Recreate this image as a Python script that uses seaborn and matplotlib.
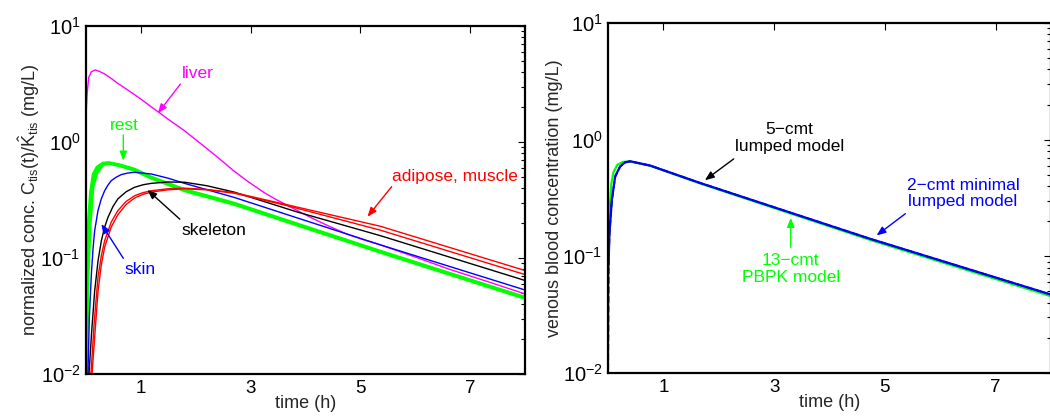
import numpy as np
import pandas as pd
import matplotlib
matplotlib.use("Agg")
import matplotlib.pyplot as plt
import seaborn as sns
from matplotlib.ticker import LogLocator, FixedLocator, LogFormatterSciNotation, NullFormatter, NullLocator

# ---------------- data ----------------
# left panel: normalized tissue concentrations
t_liver = [0, 0.02, 0.05, 0.10, 0.17, 0.25, 0.34, 0.46, 0.58, 0.73, 0.885, 1.04, 1.19, 1.49, 1.795, 2.10, 2.40, 2.70, 2.97, 3.24, 3.45, 3.66, 3.90, 4.15, 4.45, 4.75, 5.05, 5.36, 6.0, 6.62, 7.3, 8.0]
c_liver = [1.65, 2.6, 3.6, 4.05, 4.18, 4.05, 3.86, 3.53, 3.2, 2.87, 2.56, 2.27, 2.01, 1.58, 1.25, 0.96, 0.738, 0.56, 0.45, 0.368, 0.322, 0.286, 0.249, 0.217, 0.186, 0.161, 0.144, 0.130, 0.102, 0.080, 0.063, 0.049]

t_rest = [0, 0.015, 0.04, 0.08, 0.13, 0.20, 0.31, 0.42, 0.60, 0.885, 1.19, 1.795, 2.70, 3.66, 5.36, 8.0]
c_rest_a = [0.002, 0.04, 0.20, 0.37, 0.53, 0.61, 0.66, 0.665, 0.64, 0.585, 0.50, 0.39, 0.298, 0.211, 0.115, 0.046]
c_rest_b = [0.002, 0.025, 0.13, 0.30, 0.48, 0.58, 0.65, 0.66, 0.632, 0.577, 0.493, 0.385, 0.294, 0.208, 0.1135, 0.0454]
c_rest_c = [0.001, 0.012, 0.07, 0.20, 0.41, 0.54, 0.635, 0.652, 0.624, 0.568, 0.486, 0.379, 0.289, 0.205, 0.1118, 0.0447]

t_skin = [0, 0.036, 0.06, 0.098, 0.128, 0.158, 0.218, 0.28, 0.34, 0.40, 0.46, 0.55, 0.64, 0.76, 0.885, 1.19, 1.50, 1.795, 2.70, 3.66, 5.36, 8.0]
c_skin = [0.001, 0.01, 0.03, 0.073, 0.12, 0.172, 0.256, 0.325, 0.38, 0.425, 0.464, 0.497, 0.523, 0.540, 0.548, 0.53, 0.487, 0.44, 0.333, 0.237, 0.130, 0.053]

t_skel = [0, 0.055, 0.10, 0.158, 0.22, 0.28, 0.34, 0.40, 0.49, 0.58, 0.73, 0.885, 1.04, 1.19, 1.49, 1.795, 2.20, 2.70, 3.84, 5.36, 8.0]
c_skel = [0.001, 0.01, 0.022, 0.052, 0.095, 0.141, 0.185, 0.224, 0.277, 0.323, 0.372, 0.407, 0.428, 0.44, 0.452, 0.45, 0.42, 0.37, 0.25, 0.156, 0.064]

t_red1 = [0, 0.09, 0.15, 0.218, 0.28, 0.34, 0.46, 0.58, 0.73, 0.885, 1.04, 1.19, 1.49, 1.795, 2.20, 2.70, 3.66, 5.36, 8.0]
c_red1 = [0.001, 0.01, 0.028, 0.068, 0.105, 0.141, 0.204, 0.256, 0.307, 0.344, 0.366, 0.38, 0.395, 0.40, 0.39, 0.366, 0.288, 0.188, 0.078]
t_red2 = [0, 0.11, 0.17, 0.22, 0.28, 0.34, 0.46, 0.58, 0.73, 0.885, 1.04, 1.19, 1.49, 1.795, 2.20, 2.70, 3.66, 5.36, 8.0]
c_red2 = [0.001, 0.01, 0.025, 0.052, 0.088, 0.124, 0.185, 0.236, 0.289, 0.329, 0.354, 0.37, 0.387, 0.395, 0.387, 0.362, 0.283, 0.174, 0.072]

# right panel: venous blood concentration
t_pbpk = [0, 0.01, 0.03, 0.06, 0.10, 0.17, 0.27, 0.40, 0.76, 1.66, 4.72, 8.0]
c_pbpk = [0.02, 0.12, 0.25, 0.42, 0.53, 0.61, 0.645, 0.65, 0.598, 0.422, 0.139, 0.0455]
t_5cmt = [0, 0.012, 0.027, 0.07, 0.13, 0.22, 0.31, 0.40, 0.76, 1.66, 4.72, 8.0]
c_5cmt = [0.005, 0.09, 0.155, 0.30, 0.48, 0.588, 0.638, 0.652, 0.60, 0.426, 0.142, 0.047]
t_2cmt = [0, 0.01, 0.027, 0.07, 0.13, 0.22, 0.31, 0.40, 0.76, 1.66, 4.72, 8.0]
c_2cmt = [0.08, 0.0855, 0.159, 0.307, 0.486, 0.591, 0.64, 0.653, 0.60, 0.426, 0.142, 0.047]

x_ticks = [1, 3, 5, 7]

# ---------------- style ----------------
sns.set_style("white")
plt.rcParams['font.family'] = ['Liberation Sans', 'DejaVu Sans']
plt.rcParams['mathtext.fontset'] = 'custom'
plt.rcParams['mathtext.rm'] = 'Liberation Sans'
plt.rcParams['mathtext.it'] = 'Liberation Sans:italic'
plt.rcParams['mathtext.bf'] = 'Liberation Sans:bold'

FS = 12.5
MAG, GRN, BLU, RED, BLK = '#ff00ff', '#00ff00', '#0000ff', '#ff0000', '#000000'

fig = plt.figure(figsize=(10.5, 4.18), dpi=100)
W, H = 1050.0, 418.0
axL = fig.add_axes([86 / W, (H - 374) / H, 439 / W, 348 / H])
axR = fig.add_axes([608 / W, (H - 373) / H, 443 / W, 350 / H])


def line(ax, t, c, color, lw=1.0, ls='-'):
    df = pd.DataFrame({'t': t, 'c': c})
    sns.lineplot(data=df, x='t', y='c', ax=ax, color=color, lw=lw, ls=ls,
                 sort=False, estimator=None, legend=False)


# left
line(axL, t_liver, c_liver, MAG, 1.0)
for cr in (c_rest_c, c_rest_b, c_rest_a):
    line(axL, t_rest, cr, GRN, 1.9)
line(axL, t_skin, c_skin, BLU, 1.0)
line(axL, t_skel, c_skel, BLK, 1.0)
line(axL, t_red1, c_red1, RED, 1.0)
line(axL, t_red2, c_red2, RED, 1.0)

# right
line(axR, t_pbpk, c_pbpk, GRN, 1.6)
line(axR, t_5cmt, c_5cmt, BLK, 1.3, '--')
line(axR, t_2cmt, c_2cmt, BLU, 1.6)

for ax in (axL, axR):
    ax.set_yscale('log')
    ax.set_ylim(1e-2, 1e1)
    ax.set_xlim(0, 8)
    ax.xaxis.set_major_locator(FixedLocator(x_ticks))
    ax.xaxis.set_minor_locator(NullLocator())
    ax.yaxis.set_major_locator(LogLocator(base=10, numticks=10))
    ax.yaxis.set_minor_locator(LogLocator(base=10, subs=np.arange(2, 10), numticks=20))
    ax.yaxis.set_major_formatter(LogFormatterSciNotation())
    ax.yaxis.set_minor_formatter(NullFormatter())
    ax.tick_params(which='both', direction='in', top=True, right=True, colors='black', width=0.8)
    ax.tick_params(axis='x', labelsize=13.5)
    ax.tick_params(axis='y', labelsize=14.5)
    ax.tick_params(which='major', length=5, pad=4)
    ax.tick_params(which='minor', length=3)
    for s in ax.spines.values():
        s.set_color('black')
        s.set_linewidth(1.6)
    ax.set_xlabel('time (h)', fontsize=13, labelpad=-1)
    ax.grid(False)

axL.set_ylabel(r'normalized conc. C$_{\mathrm{tis}}$(t)/$\hat{\mathrm{K}}_{\mathrm{tis}}$ (mg/L)',
               fontsize=13, labelpad=-1.5)
axR.set_ylabel('venous blood concentration (mg/L)', fontsize=13, labelpad=-0.5)

arrow = dict(arrowstyle='-|>,head_length=0.55,head_width=0.22', lw=1.0, shrinkA=0, shrinkB=0)


def note(ax, text, txy, tail, tip, color):
    ax.text(txy[0], txy[1], text, color=color, fontsize=FS, ha='center', va='center',
            linespacing=1.15)
    ax.annotate('', xy=tip, xytext=tail,
                arrowprops=dict(arrow, color=color))


note(axL, 'liver', (2.03, 3.86), (1.72, 3.16), (1.31, 1.77), MAG)
note(axL, 'rest', (0.69, 1.38), (0.68, 1.15), (0.68, 0.69), GRN)
note(axL, 'adipose, muscle', (6.72, 0.509), (5.57, 0.412), (5.13, 0.227), RED)
note(axL, 'skeleton', (2.33, 0.171), (1.71, 0.216), (1.12, 0.386), BLK)
note(axL, 'skin', (0.976, 0.080), (0.68, 0.0994), (0.28, 0.196), BLU)

note(axR, '5\u2212cmt\nlumped model', (3.28, 1.03), (2.27, 0.684), (1.75, 0.449), BLK)
note(axR, '2\u2212cmt minimal\nlumped model', (6.41, 0.345), (5.37, 0.232), (4.85, 0.151), BLU)
note(axR, '13\u2212cmt\nPBPK model', (3.30, 0.078), (3.30, 0.119), (3.30, 0.214), GRN)

fig.savefig('out.png', dpi=100)
